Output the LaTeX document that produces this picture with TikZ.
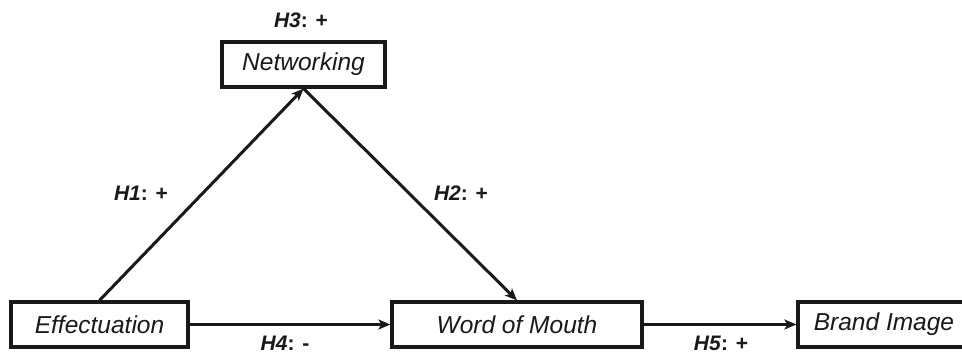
\documentclass[tikz,border=0pt]{standalone}
\usepackage{fontspec}
\setmainfont{Liberation Sans}
\usetikzlibrary{arrows.meta}
\definecolor{ink}{RGB}{25,25,25}
\tikzset{
  box/.style={draw=ink, line width=3.2pt, fill=white, inner sep=0pt, minimum height=45pt, font=\fontsize{24.5}{28}\selectfont\itshape, text=ink},
  link/.style={draw=ink, line width=3pt, -{Stealth[length=12pt,width=10pt,inset=3pt]}},
  hyp/.style={font=\fontsize{21}{24}\selectfont\bfseries, text=ink, inner sep=0pt}
}
\begin{document}
\begin{tikzpicture}[x=1pt,y=-1pt]
\clip (0,0) rectangle (962,353);
\fill[white] (0,0) rectangle (962,353);
\node[box, minimum width=163pt] (net) at (303.5,64.5) {Networking};
\node[box, minimum width=177pt] (eff) at (99.5,324.5) {Effectuation};
\node[box, minimum width=250pt] (wom) at (517,324.5) {Word of Mouth};
\node[box, minimum width=172pt] (bi) at (884,324.5) {Brand Image};
\draw[link] (eff.north) -- (net.south);
\draw[link] (net.south) -- (wom.north);
\draw[link] (eff.east) -- (wom.west);
\draw[link] (wom.east) -- (bi.west);
\node[hyp] (h3) at (301,20) {\textit{H3}: +};
\node[hyp] (h1) at (141,193) {\textit{H1}: +};
\node[hyp] (h2) at (461,193) {\textit{H2}: +};
\node[hyp] (h4) at (285,343) {\textit{H4}: -};
\node[hyp] (h5) at (721,343) {\textit{H5}: +};
\end{tikzpicture}
\end{document}
